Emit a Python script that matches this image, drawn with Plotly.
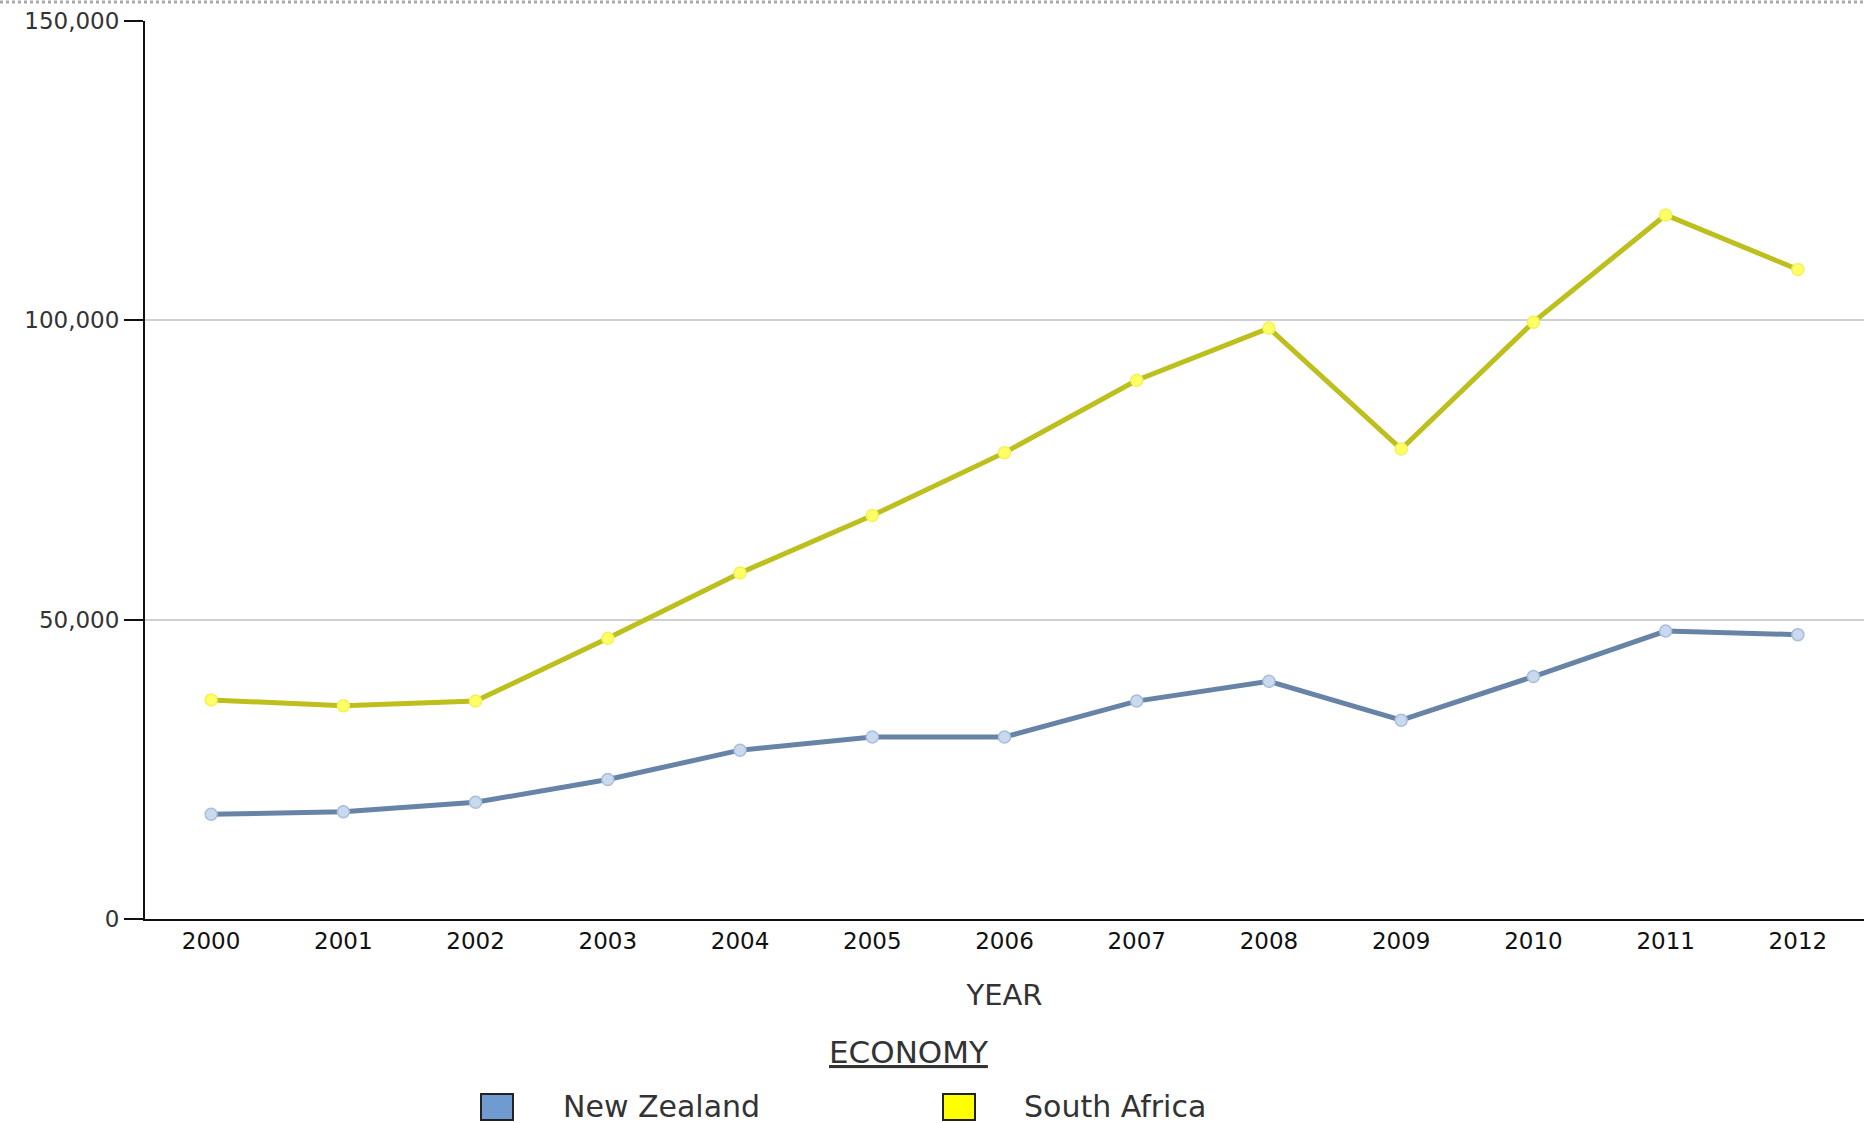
import plotly.graph_objects as go

years = ["2000", "2001", "2002", "2003", "2004", "2005", "2006",
         "2007", "2008", "2009", "2010", "2011", "2012"]
new_zealand = [17500, 17900, 19500, 23300, 28200, 30400, 30400,
               36400, 39700, 33200, 40500, 48100, 47500]
south_africa = [36600, 35600, 36400, 46900, 57800, 67400, 77900,
                90000, 98700, 78500, 99700, 117600, 108500]
y_ticks = [0, 50000, 100000, 150000]
legend_title = "ECONOMY"
series_names = ["New Zealand", "South Africa"]

W, H = 1864, 1123
L, R, T, B = 145, 0, 21, 204
PW, PH = W - L - R, H - T - B


def px_x(p):
    return (p - L) / PW


def px_y(p):
    return (H - B - p) / PH


fig = go.Figure()
fig.add_trace(go.Scatter(
    x=years, y=new_zealand, name=series_names[0], mode="lines+markers",
    line=dict(color="#6784a6", width=5),
    marker=dict(size=12, color="#c9d9ee", line=dict(color="#a9bedb", width=1.5)),
    showlegend=False,
))
fig.add_trace(go.Scatter(
    x=years, y=south_africa, name=series_names[1], mode="lines+markers",
    line=dict(color="#bcbf1c", width=5),
    marker=dict(size=12, color="#ffff66", line=dict(color="#f2f25a", width=1.5)),
    showlegend=False,
))

font_family = "DejaVu Sans, Arial, sans-serif"

fig.update_layout(
    width=W, height=H,
    margin=dict(l=L, r=R, t=T, b=B),
    paper_bgcolor="white", plot_bgcolor="white",
    font=dict(family=font_family, color="#222222"),
    showlegend=False,
    xaxis=dict(
        type="category", range=[-0.5, 12.5],
        showline=True, linecolor="#111111", linewidth=2,
        showgrid=False, ticks="", zeroline=False,
        tickfont=dict(size=23, color="#111111"),
        title=dict(text="YEAR", font=dict(size=29, color="#333333"), standoff=32),
    ),
    yaxis=dict(
        range=[0, 150000], tickvals=y_ticks, tickformat=",",
        showline=True, linecolor="#111111", linewidth=2,
        ticks="outside", ticklen=19, tickwidth=2, tickcolor="#111111",
        showgrid=True, gridcolor="#d0d0d0", gridwidth=1.5, zeroline=False,
        tickfont=dict(size=23, color="#333333"),
    ),
)

# top dotted border
fig.add_shape(type="line", xref="paper", yref="paper",
              x0=px_x(0), x1=px_x(W), y0=px_y(2), y1=px_y(2),
              line=dict(color="#aaaaaa", width=3, dash="dot"))

# legend title
fig.add_annotation(xref="paper", yref="paper", x=px_x(908), y=px_y(1052),
                   text="<u>" + legend_title + "</u>", showarrow=False,
                   font=dict(size=31, color="#333333"), xanchor="center", yanchor="middle")

# manual legend
legend_items = [
    (series_names[0], "#6f9bd1", 481, 561),
    (series_names[1], "#ffff00", 943, 1022),
]
for name, col, bx, tx in legend_items:
    fig.add_shape(type="rect", xref="paper", yref="paper",
                  x0=px_x(bx), x1=px_x(bx + 32), y0=px_y(1120), y1=px_y(1094),
                  fillcolor=col, line=dict(color="#222222", width=2))
    fig.add_annotation(xref="paper", yref="paper", x=px_x(tx), y=px_y(1106),
                       text=name, showarrow=False, xanchor="left", yanchor="middle",
                       font=dict(size=30, color="#333333"))

fig.write_html("out.html", config={"displayModeBar": False},
               post_script="document.body.style.margin='0';document.body.style.overflow='hidden';")
